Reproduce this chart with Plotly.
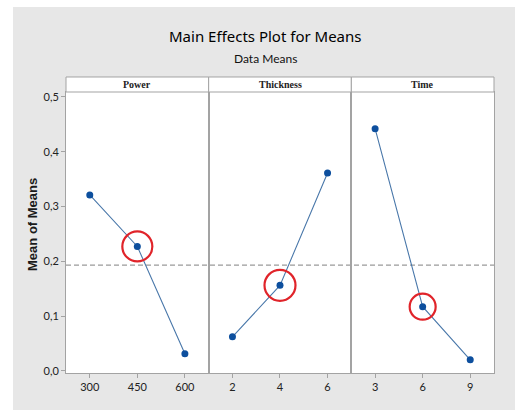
import plotly.graph_objects as go
from plotly.subplots import make_subplots

# Factor levels and mean of means at each level
factors = ["Power", "Thickness", "Time"]
power_levels = [300, 450, 600]
power_means = [0.321, 0.227, 0.031]
thickness_levels = [2, 4, 6]
thickness_means = [0.062, 0.156, 0.361]
time_levels = [3, 6, 9]
time_means = [0.442, 0.117, 0.020]

# Chosen level of each factor (ringed in red)
chosen_levels = [450, 4, 6]
ring_sizes = [30, 31, 26]

# x ranges pad half a level step on each side
x_ranges = [[225, 675], [1, 7], [1.5, 10.5]]

levels = [power_levels, thickness_levels, time_levels]
means = [power_means, thickness_means, time_means]
all_means = power_means + thickness_means + time_means
grand_mean = sum(all_means) / len(all_means)

LINE_C = "#4a78aa"
DOT_C = "#0d4f9e"
RING_C = "#e0242a"
BORDER_C = "#a3a3a3"
BG_GRAY = "#e7e7e7"

fig = make_subplots(rows=1, cols=3, shared_yaxes=True, horizontal_spacing=0)

for i in range(3):
    fig.add_trace(
        go.Scatter(
            x=levels[i], y=means[i], mode="lines+markers",
            line=dict(color=LINE_C, width=1.1),
            marker=dict(color=DOT_C, size=7),
            showlegend=False, hoverinfo="skip",
        ),
        row=1, col=i + 1,
    )
    k = levels[i].index(chosen_levels[i])
    fig.add_trace(
        go.Scatter(
            x=[levels[i][k]], y=[means[i][k]], mode="markers",
            marker=dict(symbol="circle-open", size=ring_sizes[i],
                        color=RING_C, line=dict(color=RING_C, width=2.2)),
            showlegend=False, hoverinfo="skip",
        ),
        row=1, col=i + 1,
    )
    xa = "x" if i == 0 else f"x{i + 1}"
    ya = "y" if i == 0 else f"y{i + 1}"
    fig.update_xaxes(
        range=x_ranges[i], tickvals=levels[i], ticktext=[str(v) for v in levels[i]],
        ticks="outside", ticklen=4, tickcolor=BORDER_C, showgrid=False, zeroline=False,
        showline=True, mirror=True, linecolor=BORDER_C, linewidth=1,
        tickfont=dict(family="Lato", size=11, color="#222222"),
        row=1, col=i + 1,
    )
    # header strip above each panel
    fig.add_shape(
        type="rect", xref=f"{xa} domain", yref=f"{ya} domain",
        x0=0, x1=1, y0=1, y1=1.0534,
        fillcolor="white", line=dict(color=BORDER_C, width=1),
    )
    fig.add_annotation(
        text=f"<b>{factors[i]}</b>", xref=f"{xa} domain", yref=f"{ya} domain",
        x=0.5, y=1.027, showarrow=False, yanchor="middle",
        font=dict(family="Liberation Serif", size=10, color="#222222"),
    )

fig.update_yaxes(
    range=[-0.004, 0.509], tickvals=[0, 0.1, 0.2, 0.3, 0.4, 0.5], tickformat=".1f",
    showgrid=False, zeroline=False, showline=True, mirror=True,
    linecolor=BORDER_C, linewidth=1,
    tickfont=dict(family="Lato", size=11, color="#222222"),
)
fig.update_yaxes(ticks="outside", ticklen=4, tickcolor=BORDER_C, row=1, col=1)

# y-axis title
fig.add_annotation(text="<b>Mean of Means</b>", xref="paper", yref="paper",
                   x=-0.077, y=0.527, textangle=-90, showarrow=False,
                   xanchor="center", yanchor="middle",
                   font=dict(family="Liberation Sans", size=13, color="#1a1a1a"))

# grand mean reference line
fig.add_shape(type="line", xref="paper", yref="y", x0=0, x1=1,
              y0=grand_mean, y1=grand_mean,
              line=dict(color="#9a9a9a", width=1.2, dash="5px,3px"), layer="below")

# white page edge at left and top
fig.add_shape(type="rect", xref="paper", yref="paper", x0=-0.16, x1=-0.1238,
              y0=-0.2, y1=1.4, fillcolor="white", line=dict(width=0), layer="above")
fig.add_shape(type="rect", xref="paper", yref="paper", x0=-0.2, x1=1.2,
              y0=1.3025, y1=1.4, fillcolor="white", line=dict(width=0), layer="above")

fig.add_annotation(text="Main Effects Plot for Means", xref="paper", yref="paper",
                   x=0.465, y=1.2, showarrow=False, yanchor="middle",
                   font=dict(family="Noto Sans", size=15, color="#000000"))
fig.add_annotation(text="Data Means", xref="paper", yref="paper",
                   x=0.465, y=1.12, showarrow=False, yanchor="middle",
                   font=dict(family="Lato", size=12, color="#111111"))

fig.update_layout(
    width=515, height=410,
    margin=dict(l=66, r=21, t=92, b=37),
    paper_bgcolor=BG_GRAY, plot_bgcolor="white",
    separators=", ",
)

fig.write_html("out.html")
